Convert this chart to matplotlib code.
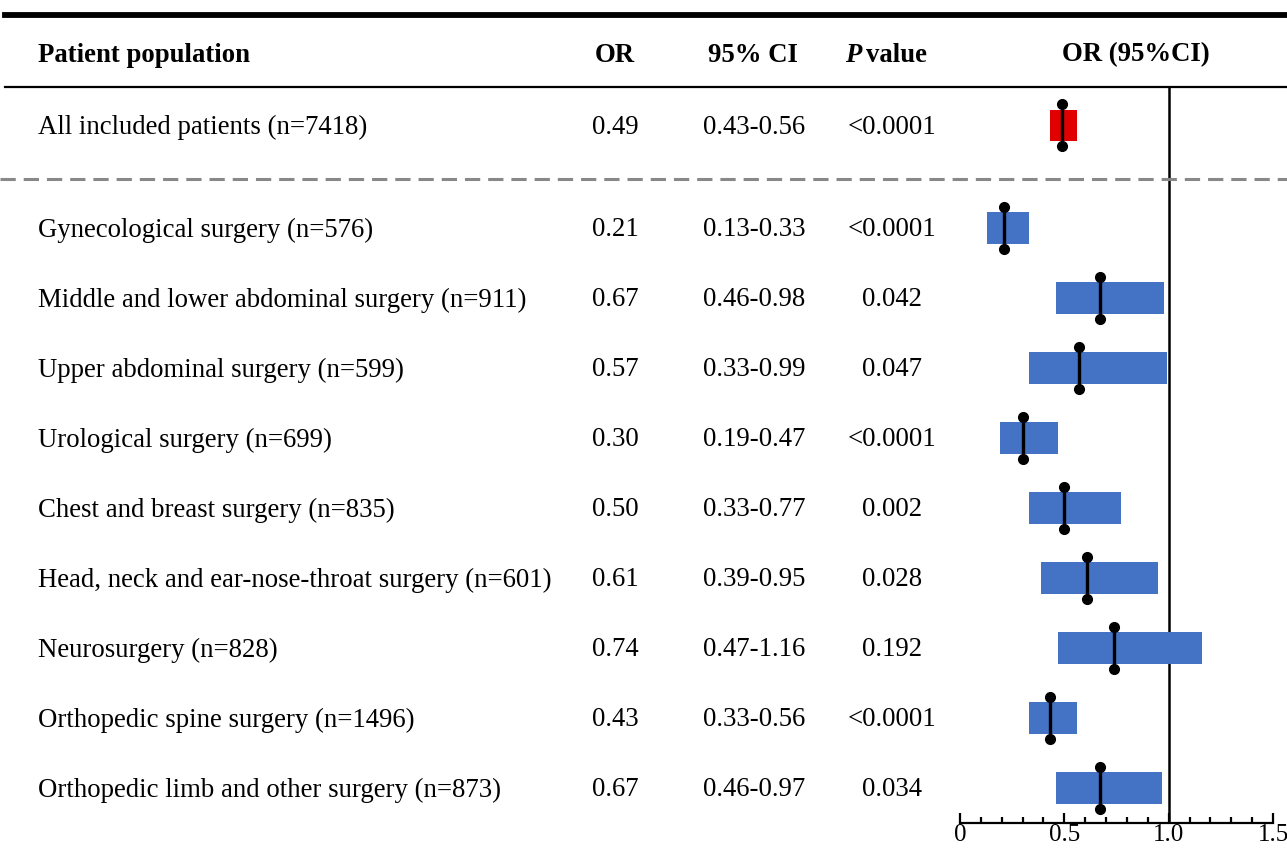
import matplotlib
matplotlib.use("Agg")
import matplotlib.pyplot as plt
import matplotlib.transforms as mtransforms
from matplotlib.lines import Line2D
from matplotlib.ticker import MultipleLocator
import numpy as np

plt.rcParams['font.family'] = ['Liberation Serif', 'DejaVu Serif']

# ---- data ----
overall_label = "All included patients (n=7418)"
overall_or = 0.49
overall_lo = 0.43
overall_hi = 0.56
overall_p = "<0.0001"

labels = [
    "Gynecological surgery (n=576)",
    "Middle and lower abdominal surgery (n=911)",
    "Upper abdominal surgery (n=599)",
    "Urological surgery (n=699)",
    "Chest and breast surgery (n=835)",
    "Head, neck and ear-nose-throat surgery (n=601)",
    "Neurosurgery (n=828)",
    "Orthopedic spine surgery (n=1496)",
    "Orthopedic limb and other surgery (n=873)",
]
or_vals = [0.21, 0.67, 0.57, 0.30, 0.50, 0.61, 0.74, 0.43, 0.67]
ci_lo = [0.13, 0.46, 0.33, 0.19, 0.33, 0.39, 0.47, 0.33, 0.46]
ci_hi = [0.33, 0.98, 0.99, 0.47, 0.77, 0.95, 1.16, 0.56, 0.97]
p_vals = ["<0.0001", "0.042", "0.047", "<0.0001", "0.002", "0.028", "0.192", "<0.0001", "0.034"]

headers = ["Patient population", "OR", "95% CI", "value", "OR (95%CI)"]
xticks_major = [0, 0.5, 1.0, 1.5]
xtick_labels = ["0", "0.5", "1.0", "1.5"]

# ---- layout ----
W, H = 1287, 852
fig = plt.figure(figsize=(W / 100, H / 100), dpi=100)

def fx(px):
    return px / W

ax_left, ax_right = 960, 1273
ax_top, ax_bot = 87, 823
ax = fig.add_axes([fx(ax_left), 1 - ax_bot / H, fx(ax_right - ax_left), (ax_bot - ax_top) / H])
ax.set_xlim(0, 1.5)
row_h = 70.0
y0_px = 228
def ry(px):
    return (px - y0_px) / row_h
ax.set_ylim(ry(ax_bot), ry(ax_top))
ax.patch.set_alpha(0)

for s in ["top", "right", "left"]:
    ax.spines[s].set_visible(False)
ax.spines["bottom"].set_linewidth(1.6)
ax.set_yticks([])
ax.set_xticks(xticks_major)
ax.set_xticklabels(xtick_labels)
ax.xaxis.set_minor_locator(MultipleLocator(0.1))
ax.tick_params(axis='x', which='major', direction='in', length=7, width=1.6, pad=1, labelsize=18)
ax.tick_params(axis='x', which='minor', direction='in', length=4.5, width=1.6)

# reference line at OR = 1
ax.axvline(1.0, color='black', lw=1.8, zorder=1)

blue = "#4472C4"
red = "#E00000"
bar_h = 32 / row_h
whisk = 21 / row_h

# overall row
y_all = ry(125)
ax.barh(y_all, overall_hi - overall_lo, left=overall_lo, height=31 / row_h, color=red, zorder=2)
ax.plot([overall_or, overall_or], [y_all - whisk, y_all + whisk], color='black', lw=2.4,
        marker='o', markersize=7, zorder=3)

ys = np.arange(len(labels))
for y, o, lo, hi in zip(ys, or_vals, ci_lo, ci_hi):
    ax.barh(y, hi - lo, left=lo, height=bar_h, color=blue, zorder=2)
    ax.plot([o, o], [y - whisk, y + whisk], color='black', lw=2.4,
            marker='o', markersize=7, zorder=3)

# ---- table text ----
trans = mtransforms.blended_transform_factory(fig.transFigure, ax.transData)
fs = 19.3
x_lab, x_or, x_ci, x_p = fx(38), fx(592), fx(703), fx(892)
dy = 2 / row_h  # small downward shift of text baseline

y_head = ry(52) + 3 / row_h
kw_h = dict(transform=trans, fontsize=fs, fontweight='bold', va='center')
fig.text(x_lab, y_head, headers[0], ha='left', **kw_h)
fig.text(fx(615), y_head, headers[1], ha='center', **kw_h)
fig.text(fx(753), y_head, headers[2], ha='center', **kw_h)
fig.text(fx(845), y_head, "P", fontstyle='italic', ha='left', **kw_h)
fig.text(fx(866), y_head, headers[3], ha='left', **kw_h)
fig.text(fx(1136), y_head, headers[4], ha='center', **kw_h)

kw = dict(transform=trans, fontsize=fs, va='center')
fig.text(x_lab, y_all + dy, overall_label, ha='left', **kw)
fig.text(x_or, y_all + dy, f"{overall_or:.2f}", ha='left', **kw)
fig.text(x_ci, y_all + dy, f"{overall_lo:.2f}-{overall_hi:.2f}", ha='left', **kw)
fig.text(x_p, y_all + dy, overall_p, ha='center', **kw)

for y, lab, o, lo, hi, p in zip(ys, labels, or_vals, ci_lo, ci_hi, p_vals):
    fig.text(x_lab, y + dy, lab, ha='left', **kw)
    fig.text(x_or, y + dy, f"{o:.2f}", ha='left', **kw)
    fig.text(x_ci, y + dy, f"{lo:.2f}-{hi:.2f}", ha='left', **kw)
    fig.text(x_p, y + dy, p, ha='center', **kw)

# ---- rules ----
fig.add_artist(Line2D([fx(5), 1], [ry(14.5)] * 2, transform=trans, color='black', lw=4.2, clip_on=False))
fig.add_artist(Line2D([fx(5), 1], [ry(87)] * 2, transform=trans, color='black', lw=1.6, clip_on=False))
fig.add_artist(Line2D([0, 1], [ry(179)] * 2, transform=trans, color='#888888', lw=2.2,
                      linestyle=(0, (5, 2.6)), clip_on=False))

fig.savefig("out.png", dpi=100)
